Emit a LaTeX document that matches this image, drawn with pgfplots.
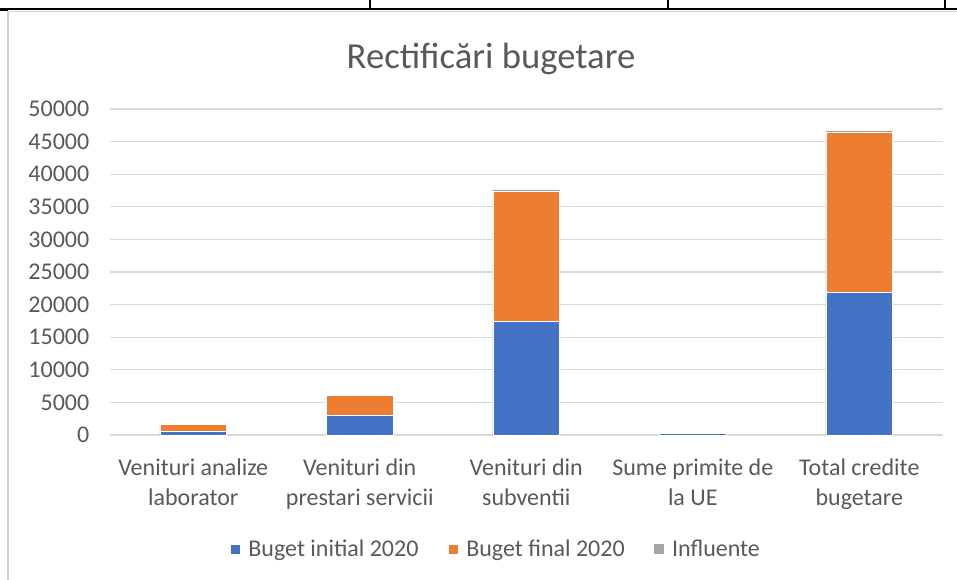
\documentclass[border=0pt]{standalone}
\usepackage{fontspec}
\setmainfont{Carlito}
\usepackage{pgfplots}
\pgfplotsset{compat=1.18}
\definecolor{cBlue}{HTML}{4472C4}
\definecolor{cOrange}{HTML}{ED7D31}
\definecolor{cGray}{HTML}{A5A5A5}
\definecolor{cGrid}{HTML}{D9D9D9}
\definecolor{cText}{HTML}{595959}
\definecolor{cFrame}{HTML}{D0D0D0}

\pgfplotstableread{
x initial final infl
0 600   1050  0
1 3020  3100  0
2 17400 20030 150
3 250   210   0
4 21900 24580 150
}\budget

\begin{document}
\begin{tikzpicture}[x=0.75pt,y=-0.75pt]
\useasboundingbox (0,0) rectangle (957,580);
% table borders above the chart
\draw[black,line width=1.5pt] (0,9) -- (957,9);
\draw[black,line width=0.8pt] (370,0) -- (370,9) (668,0) -- (668,9) (945,0) -- (945,9);
\fill[black] (0,9) rectangle (8,11.5);
% chart frame
\draw[cFrame,line width=1pt] (8,590) -- (8,11.5) -- (970,11.5);

\node[font=\fontsize{27.5}{33}\selectfont,text=cText] at (491,59) {Rectificări bugetare};

\begin{axis}[
  at={(110pt*0.75,-435pt*0.75)}, anchor=south west,
  scale only axis, width=624.4pt, height=244.5pt,
  ybar stacked, bar width=50pt,
  xmin=-0.5, xmax=4.5, ymin=0, ymax=50000,
  xtick=data,
  xticklabels={{Venituri analize\\laborator},{Venituri din\\prestari servicii},{Venituri din\\subventii},{Sume primite de\\la UE},{Total credite\\bugetare}},
  x tick label style={align=center, font=\fontsize{18}{22.5}\selectfont, text=cText, yshift=-14pt},
  ytick={0,5000,...,50000},
  y tick label style={font=\fontsize{18}{22}\selectfont, text=cText, xshift=-12pt},
  /pgf/number format/assume math mode=true,
  scaled y ticks=false,
  yticklabel={\pgfmathprintnumber[fixed,1000 sep={}]{\tick}},
  axis line style={draw=none},
  axis x line*=bottom,
  x axis line style={draw=cGrid,line width=1pt},
  major tick length=0pt,
  ymajorgrids, grid style={cGrid,line width=1pt},
  legend columns=3,
  legend style={at={(0.464,-0.35)}, anchor=center, draw=none, fill=none,
    font=\fontsize{18}{22}\selectfont, text=cText,
    /tikz/every odd column/.append style={column sep=4pt},
    /tikz/every even column/.append style={column sep=20pt}},
  legend image code/.code={\fill[#1] (0pt,-3.7pt) rectangle (7.5pt,3.7pt);},
]
\addplot[fill=cBlue, draw=white, line width=0.3pt] table[x=x,y=initial]{\budget};
\addlegendentry{Buget initial 2020}
\addplot[fill=cOrange, draw=white, line width=0.3pt] table[x=x,y=final]{\budget};
\addlegendentry{Buget final 2020}
\addplot[fill=cGray, draw=none] table[x=x,y=infl]{\budget};
\addlegendentry{Influente}
\end{axis}
\end{tikzpicture}
\end{document}
